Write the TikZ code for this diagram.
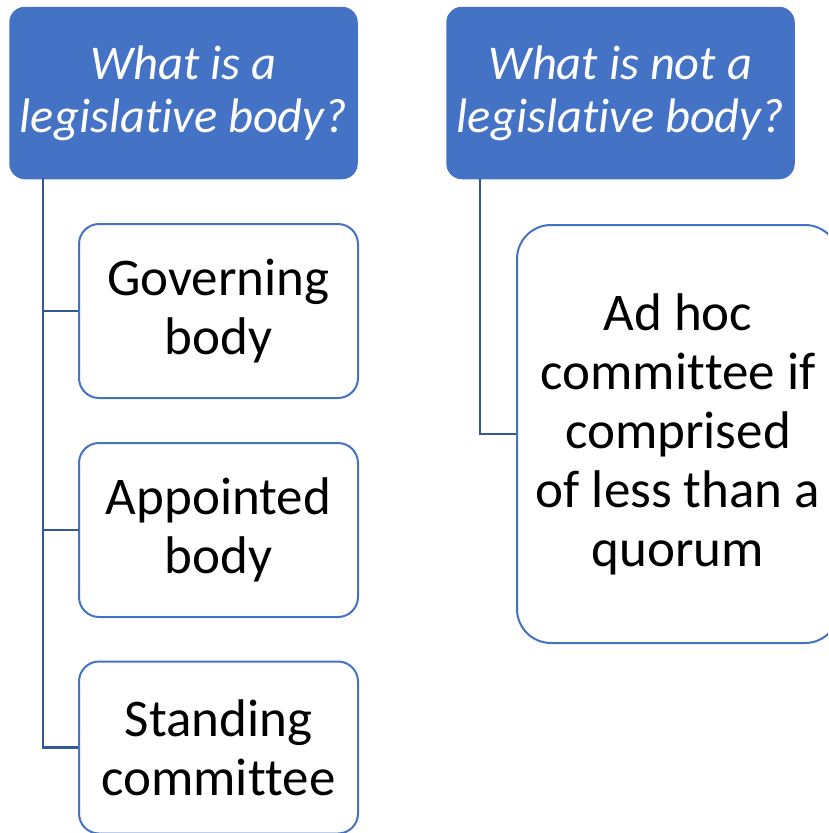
\documentclass[tikz,border=0pt]{standalone}
\usepackage{fontspec}
\setmainfont[Ligatures=NoCommon]{Carlito}
\newcommand\zk{\kern0pt }
\definecolor{hdr}{RGB}{68,114,196}
\definecolor{conn}{RGB}{52,88,156}
\tikzset{
  hdrbox/.style={draw=hdr, fill=hdr, line width=1.5pt, rounded corners=15pt, text=white,
    minimum width=347pt, minimum height=171pt, align=center, inner sep=0pt,
    font=\fontsize{48.5}{53}\selectfont\itshape},
  itembox/.style={draw=hdr, fill=white, line width=2pt, rounded corners=20pt, text=black,
    minimum width=279pt, align=center, inner sep=0pt,
    font=\fontsize{53}{59}\selectfont},
  conline/.style={draw=conn, line width=2.2pt}
}
\begin{document}
\begin{tikzpicture}[x=1pt,y=-1pt]
\useasboundingbox (0,0) rectangle (828,833);
\clip (0,0) rectangle (828,833);
\node[hdrbox] (h1) at (183.5,93) {What is a\\legislat\zk ive body?};
\node[hdrbox] (h2) at (620.5,93) {What is not a\\legislat\zk ive body?};
\node[itembox, minimum height=174pt] (c1) at (218.5,311) {Governing\\body};
\node[itembox, minimum height=174pt] (c2) at (218.5,530) {Appointed\\body};
\node[itembox, minimum height=172pt] (c3) at (218.5,747.5) {Standing\\commit\zk tee};
\node[itembox, minimum width=322pt, minimum height=418pt, rounded corners=34pt] (r1) at (678,434)
  {Ad hoc\\commit\zk tee if\\comprised\\of less than a\\quorum};
\coordinate (t1) at ([xshift=34pt,yshift=1.5pt]h1.south west);
\coordinate (t2) at ([xshift=34pt,yshift=1.5pt]h2.south west);
\draw[conline] (t1) |- (c1.west);
\draw[conline] (t1) |- (c2.west);
\draw[conline] (t1) |- (c3.west);
\draw[conline] (t2) |- (r1.west);
\end{tikzpicture}
\end{document}
